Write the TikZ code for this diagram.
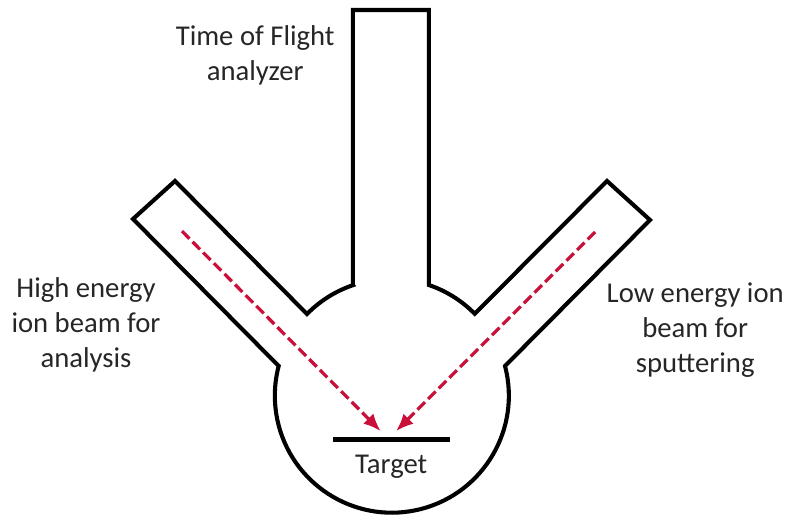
\documentclass[tikz,border=0pt]{standalone}
\usepackage{fontspec}
\setmainfont{Carlito}
\usetikzlibrary{arrows.meta}
\definecolor{beamred}{RGB}{200,16,58}
\definecolor{labelgray}{RGB}{38,38,38}
\tikzset{
  chamber/.style={draw=black, line width=2.9pt, line join=miter},
  plate/.style={draw=black, line width=3.6pt},
  beam/.style={-{Latex[length=4.4mm,width=3.6mm]}, beamred, line width=2.3pt, dash pattern=on 7.5pt off 3.2pt},
  lab/.style={align=center, text=labelgray, font=\fontsize{20.4}{25}\selectfont, inner sep=0pt}
}
\begin{document}
\begin{tikzpicture}
  \useasboundingbox (0,0) rectangle (19.7,12.85);
  % outline, clockwise from the top tube
  \draw[chamber] (8.82,5.725) -- (8.82,12.6) -- (10.72,12.6) -- (10.72,5.725)
    arc (71.3:44.5:2.925) -- (15.175,8.325) -- (16.25,7.35) -- (12.625,3.7)
    arc (14.7:-194.7:2.925) -- (3.325,7.375) -- (4.375,8.325) -- (7.675,5.0)
    arc (135.5:108.7:2.925) -- cycle;
  % beams and target
  \coordinate (leftstart) at (4.55,7.07);
  \coordinate (leftend) at (9.52,2.07);
  \coordinate (rightstart) at (14.88,7.05);
  \coordinate (rightend) at (9.9,2.07);
  \coordinate (plateleft) at (8.32,1.87);
  \coordinate (plateright) at (11.25,1.87);
  \draw[beam] (leftstart)--(leftend);
  \draw[beam] (rightstart)--(rightend);
  \draw[plate] (plateleft)--(plateright);
  \node[lab] (target) at (9.78,1.19) {Target};
  \node[lab] (tof) at (6.38,11.46) {Time of Flight\\analyzer};
  \node[lab] (high) at (2.15,4.72) {High energy\\ion beam for\\analysis};
  \node[lab] (low) at (17.38,4.6) {Low energy ion\\beam for\\sputtering};
\end{tikzpicture}
\end{document}
